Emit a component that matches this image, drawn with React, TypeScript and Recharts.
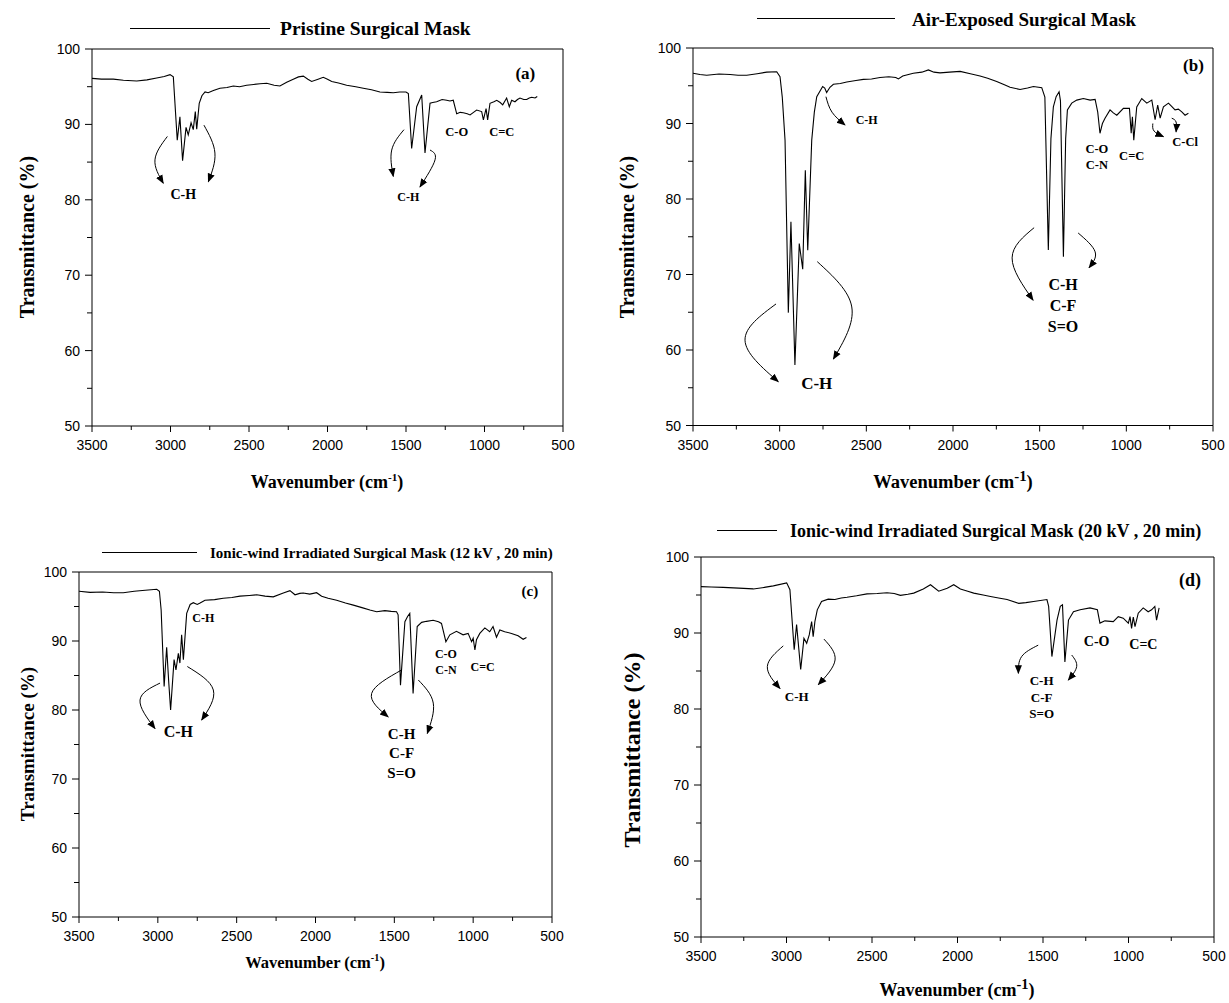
import React from "react";
import { LineChart, Line, XAxis, YAxis, ReferenceLine, ReferenceDot } from "recharts";

const SERIF = "'Liberation Serif', 'Times New Roman', serif";
const SANS = "'Liberation Sans', Arial, sans-serif";

// x / y ticks shared by all four panels
const xTicks = [3500, 3250, 3000, 2750, 2500, 2250, 2000, 1750, 1500, 1250, 1000, 750, 500];
const yTicks = [50, 55, 60, 65, 70, 75, 80, 85, 90, 95, 100];

// (a) pristine surgical mask
const pristineWave = [3500, 3440, 3364, 3300, 3215, 3150, 3088, 3040, 3003, 2982, 2957, 2940, 2923, 2901, 2887, 2869, 2855, 2842, 2833, 2817, 2800, 2780, 2760, 2727, 2685, 2640, 2600, 2560, 2515, 2470, 2430, 2387, 2340, 2303, 2260, 2218, 2185, 2154, 2125, 2101, 2060, 2027, 2000, 1973, 1930, 1878, 1820, 1772, 1720, 1666, 1620, 1581, 1540, 1500, 1485, 1464, 1432, 1400, 1379, 1347, 1330, 1305, 1270, 1241, 1220, 1199, 1177, 1155, 1135, 1110, 1092, 1070, 1050, 1018, 1007, 990, 980, 965, 940, 922, 900, 884, 859, 842, 827, 806, 790, 774, 750, 731, 715, 699, 678, 664];
const pristineT = [96.1, 96.0, 96.0, 95.85, 95.75, 95.9, 96.15, 96.35, 96.6, 96.3, 87.9, 91.0, 85.2, 89.6, 88.6, 90.2, 89.3, 91.7, 89.35, 92.8, 93.8, 94.3, 94.2, 94.5, 94.8, 94.9, 95.1, 95.0, 95.2, 95.3, 95.4, 95.45, 95.2, 95.1, 95.6, 96.0, 96.3, 96.4, 96.0, 95.7, 96.0, 96.25, 96.0, 95.7, 95.5, 95.2, 95.0, 94.8, 94.6, 94.3, 94.25, 94.2, 94.3, 94.3, 94.1, 86.8, 92.35, 93.9, 86.2, 92.8, 92.9, 93.0, 93.3, 93.2, 93.1, 93.2, 91.4, 91.6, 91.55, 91.4, 91.25, 91.6, 91.9, 91.7, 90.6, 92.1, 90.6, 92.8, 93.0, 93.2, 92.9, 92.6, 93.5, 92.35, 93.2, 93.0, 93.3, 93.5, 93.3, 93.3, 93.5, 93.6, 93.5, 93.7];

// (b) air-exposed surgical mask
const airWave = [3500, 3460, 3421, 3350, 3286, 3240, 3190, 3130, 3075, 3017, 2998, 2985, 2969, 2950, 2935, 2912, 2887, 2867, 2852, 2838, 2815, 2800, 2786, 2752, 2740, 2729, 2710, 2690, 2650, 2613, 2560, 2517, 2470, 2421, 2370, 2330, 2315, 2290, 2229, 2180, 2142, 2110, 2075, 2020, 1959, 1900, 1844, 1800, 1748, 1700, 1671, 1613, 1570, 1536, 1488, 1470, 1450, 1435, 1421, 1405, 1388, 1380, 1363, 1350, 1340, 1315, 1286, 1248, 1209, 1180, 1165, 1152, 1138, 1123, 1094, 1075, 1055, 1017, 982, 972, 965, 957, 940, 911, 882, 853, 834, 819, 805, 786, 757, 740, 719, 700, 680, 661, 642];
const airT = [96.65, 96.5, 96.4, 96.55, 96.5, 96.4, 96.4, 96.6, 96.8, 96.85, 96.2, 93.5, 87.8, 64.95, 77.0, 58.0, 74.1, 70.7, 83.8, 73.2, 87.8, 91.5, 93.55, 94.9, 94.7, 94.1, 94.8, 95.2, 95.3, 95.5, 95.7, 95.85, 95.9, 96.1, 96.2, 96.1, 95.9, 96.3, 96.65, 96.8, 97.1, 96.8, 96.7, 96.8, 96.9, 96.6, 96.3, 96.0, 95.55, 95.1, 94.8, 94.5, 94.7, 94.9, 94.75, 93.5, 73.25, 88.0, 92.2, 93.55, 94.2, 93.0, 72.35, 88.0, 91.8, 92.7, 93.1, 93.3, 93.1, 93.2, 91.5, 88.7, 90.0, 90.7, 91.8, 91.4, 91.1, 92.0, 92.0, 88.7, 90.9, 87.8, 92.2, 93.3, 92.7, 93.1, 90.5, 92.45, 90.7, 92.2, 92.7, 92.3, 91.8, 91.9, 91.55, 91.1, 91.35];

// (c) ionic-wind irradiated, 12 kV
const ion12Wave = [3500, 3430, 3350, 3280, 3219, 3150, 3080, 3007, 2990, 2979, 2960, 2944, 2931, 2919, 2897, 2885, 2870, 2860, 2849, 2838, 2817, 2795, 2775, 2750, 2732, 2701, 2640, 2585, 2530, 2479, 2420, 2373, 2320, 2268, 2204, 2162, 2130, 2100, 2078, 2036, 1993, 1961, 1920, 1866, 1810, 1760, 1700, 1655, 1612, 1560, 1520, 1486, 1476, 1461, 1433, 1416, 1402, 1381, 1355, 1327, 1296, 1254, 1220, 1201, 1173, 1148, 1106, 1064, 1032, 1010, 1000, 989, 979, 958, 926, 895, 874, 852, 831, 800, 757, 715, 683, 662];
const ion12T = [97.2, 97.05, 97.1, 97.0, 97.0, 97.2, 97.35, 97.5, 97.2, 94.5, 83.4, 89.1, 84.1, 80.0, 87.3, 85.8, 88.2, 86.8, 90.9, 87.3, 94.0, 95.3, 95.55, 95.3, 95.5, 95.9, 96.0, 96.2, 96.3, 96.5, 96.6, 96.7, 96.5, 96.4, 96.95, 97.3, 96.7, 96.9, 96.95, 96.8, 97.0, 96.5, 96.2, 95.9, 95.5, 95.2, 94.8, 94.5, 94.25, 94.4, 94.3, 94.25, 93.8, 83.6, 92.8, 93.55, 94.0, 82.4, 92.1, 92.7, 92.85, 93.0, 92.8, 92.55, 89.9, 90.9, 91.4, 90.9, 91.1, 89.9, 90.4, 88.7, 90.2, 91.1, 91.9, 91.35, 92.1, 90.55, 91.6, 91.35, 91.1, 90.75, 90.25, 90.5];

// (d) ionic-wind irradiated, 20 kV
const ion20Wave = [3500, 3440, 3370, 3280, 3194, 3130, 3077, 2999, 2980, 2955, 2941, 2917, 2898, 2882, 2867, 2853, 2844, 2834, 2820, 2795, 2756, 2717, 2680, 2646, 2590, 2529, 2470, 2412, 2370, 2334, 2290, 2256, 2200, 2158, 2110, 2060, 2022, 1983, 1940, 1905, 1850, 1807, 1760, 1710, 1642, 1600, 1555, 1477, 1467, 1448, 1418, 1399, 1386, 1372, 1351, 1322, 1283, 1225, 1182, 1167, 1138, 1089, 1060, 1031, 1001, 991, 982, 972, 962, 943, 914, 885, 865, 846, 836, 821];
const ion20T = [96.1, 96.05, 96.0, 95.9, 95.8, 96.0, 96.2, 96.6, 95.7, 87.8, 91.1, 85.2, 89.3, 88.65, 89.75, 91.5, 89.5, 91.5, 93.05, 94.15, 94.45, 94.4, 94.6, 94.7, 94.9, 95.15, 95.2, 95.3, 95.2, 94.95, 95.1, 95.25, 95.8, 96.35, 95.5, 95.9, 96.35, 95.8, 95.5, 95.25, 95.0, 94.8, 94.6, 94.4, 93.9, 94.0, 94.15, 94.4, 93.5, 86.9, 91.7, 93.5, 93.7, 86.2, 91.7, 92.8, 93.05, 93.3, 93.05, 91.3, 91.6, 91.5, 92.15, 91.95, 91.3, 92.15, 90.6, 92.1, 90.85, 92.6, 93.3, 92.8, 93.05, 93.5, 91.7, 93.3];

type Pt = { w: number; t: number };
type Note = { w: number; t: number; lines: string[]; size: number };
type Arrow = { w: number[]; t: number[] };

const toData = (wave: number[], t: number[]): Pt[] => wave.map((w, i) => ({ w, t: t[i] }));

const panels = [
  {
    id: "a",
    rect: { left: 92, top: 49, w: 471, h: 377 },
    data: toData(pristineWave, pristineT),
    title: "Pristine Surgical Mask",
    titleLine: [130, 270, 29],
    titleX: 280,
    titleSize: 19.5,
    ylab: [27, 237, 20],
    xlab: [327, 482, 18, 0.62],
    notes: [
      { w: 2919, t: 80.8, lines: ["C-H"], size: 14 },
      { w: 1485, t: 80.4, lines: ["C-H"], size: 12 },
      { w: 1177, t: 89.0, lines: ["C-O"], size: 12.5 },
      { w: 890, t: 89.0, lines: ["C=C"], size: 12.5 },
      { w: 740, t: 96.8, lines: ["(a)"], size: 17 },
    ] as Note[],
    arrows: [
      { w: [3020, 3099, 3046], t: [88.4, 85.3, 82.2] },
      { w: [2787, 2717, 2759], t: [89.9, 86.2, 82.4] },
      { w: [1513, 1591, 1581], t: [89.3, 86.6, 83.1] },
      { w: [1347, 1315, 1411], t: [86.6, 85.3, 81.7] },
    ] as Arrow[],
  },
  {
    id: "b",
    rect: { left: 693, top: 48, w: 520, h: 377.5 },
    data: toData(airWave, airT),
    title: "Air-Exposed Surgical Mask",
    titleLine: [757, 895, 19],
    titleX: 912,
    titleSize: 19,
    ylab: [627, 237, 20],
    xlab: [953, 482, 18.5, 0.8],
    notes: [
      { w: 2498, t: 90.5, lines: ["C-H"], size: 12 },
      { w: 2786, t: 55.6, lines: ["C-H"], size: 17 },
      { w: 1365, t: 68.7, lines: ["C-H", "C-F", "S=O"], size: 16 },
      { w: 1170, t: 86.7, lines: ["C-O", "C-N"], size: 12.5 },
      { w: 969, t: 85.8, lines: ["C=C"], size: 12.5 },
      { w: 661, t: 87.6, lines: ["C-Cl"], size: 12.5 },
      { w: 613, t: 97.7, lines: ["(b)"], size: 17 },
    ] as Note[],
    arrows: [
      { w: [2733, 2698, 2623], t: [93.55, 91.5, 89.8] },
      { w: [3021, 3200, 3008], t: [66.1, 61.3, 55.8] },
      { w: [2783, 2584, 2690], t: [71.7, 65.7, 58.8] },
      { w: [1532, 1659, 1538], t: [76.2, 72.2, 66.6] },
      { w: [1278, 1180, 1215], t: [75.5, 73.0, 70.9] },
      { w: [847, 840, 786], t: [90.0, 89.0, 88.25] },
      { w: [738, 713, 713], t: [90.7, 90.2, 88.9] },
    ] as Arrow[],
  },
  {
    id: "c",
    rect: { left: 79, top: 572, w: 473, h: 345 },
    data: toData(ion12Wave, ion12T),
    title: "Ionic-wind Irradiated Surgical Mask (12 kV , 20 min)",
    titleLine: [102, 197, 553],
    titleX: 210,
    titleSize: 15,
    ylab: [27, 744, 19],
    xlab: [315, 963, 16.5, 0.62],
    notes: [
      { w: 2712, t: 93.4, lines: ["C-H"], size: 12 },
      { w: 2870, t: 76.9, lines: ["C-H"], size: 16 },
      { w: 1454, t: 76.6, lines: ["C-H", "C-F", "S=O"], size: 15 },
      { w: 1173, t: 88.1, lines: ["C-O", "C-N"], size: 12 },
      { w: 940, t: 86.3, lines: ["C=C"], size: 12 },
      { w: 640, t: 97.3, lines: ["(c)"], size: 15 },
    ] as Note[],
    arrows: [
      { w: [2986, 3113, 3018], t: [83.9, 81.45, 77.3] },
      { w: [2813, 2648, 2722], t: [86.3, 82.9, 78.55] },
      { w: [1454, 1644, 1539], t: [85.8, 82.4, 79.0] },
      { w: [1348, 1253, 1291], t: [84.35, 81.0, 76.6] },
    ] as Arrow[],
  },
  {
    id: "d",
    rect: { left: 701, top: 557, w: 513, h: 380 },
    data: toData(ion20Wave, ion20T),
    title: "Ionic-wind Irradiated Surgical Mask (20 kV , 20 min)",
    titleLine: [717, 777, 531],
    titleX: 790,
    titleSize: 18,
    ylab: [632, 750, 24],
    xlab: [957, 990, 18, 0.8],
    notes: [
      { w: 2940, t: 81.7, lines: ["C-H"], size: 13 },
      { w: 1508, t: 83.8, lines: ["C-H", "C-F", "S=O"], size: 13 },
      { w: 1186, t: 88.9, lines: ["C-O"], size: 14 },
      { w: 913, t: 88.6, lines: ["C=C"], size: 14 },
      { w: 640, t: 97.0, lines: ["(d)"], size: 18 },
    ] as Note[],
    arrows: [
      { w: [3019, 3112, 3038], t: [88.3, 85.6, 82.7] },
      { w: [2781, 2716, 2814], t: [89.2, 86.45, 83.2] },
      { w: [1528, 1625, 1644], t: [88.4, 86.9, 84.7] },
      { w: [1332, 1303, 1352], t: [87.1, 85.6, 83.8] },
    ] as Arrow[],
  },
];

const XTick = (props: any) => {
  const { x, y, payload } = props;
  const v = payload.value as number;
  const major = v % 500 === 0;
  return (
    <g>
      <line x1={x} y1={y} x2={x} y2={y + (major ? 6 : 4)} stroke="#000" strokeWidth={1} />
      {major && (
        <text x={x} y={y + 24} textAnchor="middle" fontSize={14} fontFamily={SANS} fill="#000">
          {v}
        </text>
      )}
    </g>
  );
};

const YTick = (props: any) => {
  const { x, y, payload } = props;
  const v = payload.value as number;
  const major = v % 10 === 0;
  return (
    <g>
      <line x1={x - (major ? 7 : 5)} y1={y} x2={x} y2={y} stroke="#000" strokeWidth={1} />
      {major && (
        <text x={x - 12} y={y + 5} textAnchor="end" fontSize={14} fontFamily={SANS} fill="#000">
          {v}
        </text>
      )}
    </g>
  );
};

const noteShape = (n: Note) => (p: any) => (
  <text
    x={p.cx}
    y={p.cy}
    textAnchor="middle"
    fontFamily={SERIF}
    fontWeight="bold"
    fontSize={n.size}
    fill="#000"
  >
    {n.lines.map((s, i) => (
      <tspan key={i} x={p.cx} dy={i === 0 ? n.size * 0.35 : n.size * 1.3}>
        {s}
      </tspan>
    ))}
  </text>
);

const ML = 60, MT = 12, MR = 12, MB = 40;

function Panel({ p }: { p: (typeof panels)[number] }) {
  const { left, top, w, h } = p.rect;
  return (
    <div style={{ position: "absolute", left: left - ML, top: top - MT }}>
      <LineChart width={ML + w + MR} height={MT + h + MB} data={p.data} margin={{ top: MT, right: MR, bottom: 0, left: 0 }}>
        <XAxis
          dataKey="w"
          type="number"
          domain={[500, 3500]}
          reversed
          ticks={xTicks}
          interval={0}
          tick={<XTick />}
          tickLine={false}
          tickSize={0}
          tickMargin={0}
          height={MB}
          stroke="#000"
          allowDataOverflow
        />
        <YAxis
          type="number"
          domain={[50, 100]}
          ticks={yTicks}
          interval={0}
          tick={<YTick />}
          tickLine={false}
          tickSize={0}
          tickMargin={0}
          width={ML}
          stroke="#000"
          allowDataOverflow
        />
        <ReferenceLine y={100} stroke="#000" strokeWidth={1} />
        <ReferenceLine x={500} stroke="#000" strokeWidth={1} />
        <Line dataKey="t" type="linear" stroke="#000" strokeWidth={1.1} dot={false} activeDot={false} isAnimationActive={false} />
        {p.arrows.map((a, i) => (
          <Line
            key={"ar" + i}
            data={a.w.map((wv, k) => ({ w: wv, t: a.t[k] }))}
            dataKey="t"
            type="natural"
            stroke="#000"
            strokeWidth={1}
            dot={false}
            activeDot={false}
            isAnimationActive={false}
            markerEnd="url(#ah)"
          />
        ))}
        {p.notes.map((n, i) => (
          <ReferenceDot key={"n" + i} x={n.w} y={n.t} r={0} shape={noteShape(n)} />
        ))}
      </LineChart>
    </div>
  );
}

export default function App() {
  return (
    <div style={{ position: "relative", width: 1229, height: 1003, background: "#fff", overflow: "hidden" }}>
      <style>{"body{margin:0}"}</style>
      <svg width={0} height={0} style={{ position: "absolute" }}>
        <defs>
          <marker id="ah" viewBox="0 0 10 10" refX="9" refY="5" markerWidth="9" markerHeight="9" markerUnits="userSpaceOnUse" orient="auto">
            <path d="M0,1 L10,5 L0,9 z" fill="#000" />
          </marker>
        </defs>
      </svg>
      {panels.map((p) => (
        <React.Fragment key={p.id}>
          <Panel p={p} />
          <div
            style={{
              position: "absolute",
              left: p.titleLine[0],
              top: p.titleLine[2] - 1,
              width: p.titleLine[1] - p.titleLine[0],
              borderTop: "1.6px solid #000",
            }}
          />
          <div
            style={{
              position: "absolute",
              left: p.titleX,
              top: p.titleLine[2],
              transform: "translateY(-50%)",
              fontFamily: SERIF,
              fontWeight: "bold",
              fontSize: p.titleSize,
              whiteSpace: "nowrap",
              lineHeight: 1,
            }}
          >
            {p.title}
          </div>
          <div
            style={{
              position: "absolute",
              left: p.ylab[0],
              top: p.ylab[1],
              transform: "translate(-50%,-50%) rotate(-90deg)",
              fontFamily: SERIF,
              fontWeight: "bold",
              fontSize: p.ylab[2],
              whiteSpace: "nowrap",
              lineHeight: 1,
            }}
          >
            Transmittance (%)
          </div>
          <div
            style={{
              position: "absolute",
              left: p.xlab[0],
              top: p.xlab[1],
              transform: "translate(-50%,-50%)",
              fontFamily: SERIF,
              fontWeight: "bold",
              fontSize: p.xlab[2],
              whiteSpace: "nowrap",
              lineHeight: 1,
            }}
          >
            Wavenumber (cm<sup style={{ fontSize: p.xlab[3] + "em", lineHeight: 0 }}>-1</sup>)
          </div>
        </React.Fragment>
      ))}
    </div>
  );
}
